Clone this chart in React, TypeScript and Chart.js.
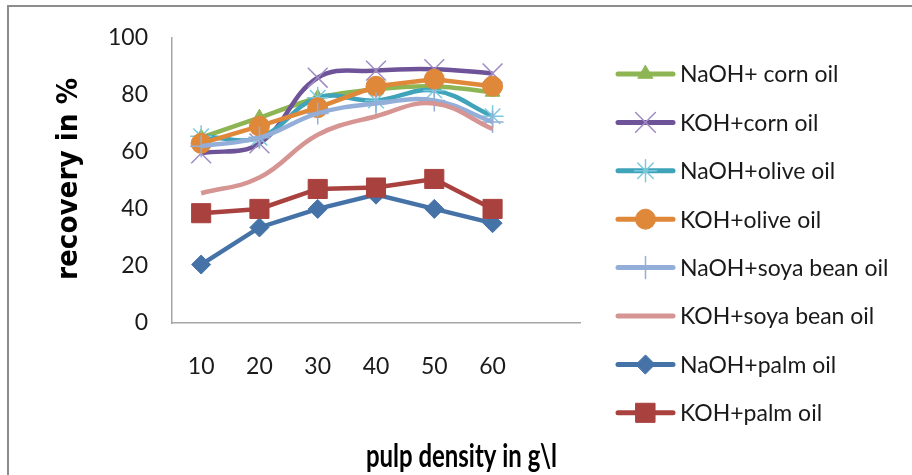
import React, { useEffect, useRef } from 'react';
import { Chart, registerables, PointElement } from 'chart.js';

Chart.register(...registerables);

const categories = ['10', '20', '30', '40', '50', '60', ''];
const seriesLabels = [
  'NaOH+ corn oil',
  'KOH+corn oil',
  'NaOH+olive oil',
  'KOH+olive oil',
  'NaOH+soya bean oil',
  'KOH+soya bean oil',
  'NaOH+palm oil',
  'KOH+palm oil',
];
const naohCorn = [65, 72, 79, 82, 83, 81];
const kohCorn = [59.5, 63, 86, 88.5, 89, 87.5];
const naohOlive = [65.5, 65, 79, 78, 81.5, 72.5];
const kohOlive = [63, 69, 75.5, 83, 85.5, 83];
const naohSoya = [62, 65, 73.5, 77, 78, 70.5];
const kohSoya = [45.5, 51, 66, 72.5, 77, 68];
const naohPalm = [20.5, 33.5, 40, 45, 40, 35];
const kohPalm = [38.5, 40, 47, 47.5, 50.5, 40];
const yMin = 0;
const yMax = 100;
const yStep = 20;
const xTitle = 'pulp density in g\\l';
const yTitle = 'recovery in %';

const seriesData = [naohCorn, kohCorn, naohOlive, kohOlive, naohSoya, kohSoya, naohPalm, kohPalm];

type Style = {
  line: string;
  pointStyle: any;
  radius: number;
  fill: string;
  stroke: string;
  pbw: number;
  tension: number;
};

const styles: Style[] = [
  { line: '#8DB553', pointStyle: 'triangle', radius: 8.5, fill: '#8DB553', stroke: '#8DB553', pbw: 1, tension: 0.25 },
  { line: '#6E5398', pointStyle: 'crossRot', radius: 14, fill: 'transparent', stroke: '#9F8CC4', pbw: 1.5, tension: 0.4 },
  { line: '#3FA3BA', pointStyle: 'star', radius: 11, fill: 'transparent', stroke: '#7CC9DD', pbw: 1.5, tension: 0.4 },
  { line: '#E0883A', pointStyle: 'circle', radius: 10, fill: '#E0883A', stroke: '#E0883A', pbw: 1, tension: 0 },
  { line: '#93AED8', pointStyle: 'cross', radius: 11, fill: 'transparent', stroke: '#93AED8', pbw: 1.5, tension: 0.4 },
  { line: '#D69592', pointStyle: 'circle', radius: 0, fill: '#D69592', stroke: '#D69592', pbw: 0, tension: 0.4 },
  { line: '#4573A8', pointStyle: 'rectRot', radius: 9.5, fill: '#4573A8', stroke: '#4573A8', pbw: 1, tension: 0 },
  { line: '#A9423F', pointStyle: 'rect', radius: 13.5, fill: '#A9423F', stroke: '#A9423F', pbw: 1, tension: 0 },
];

const framePlugin = {
  id: 'frame',
  beforeDraw(chart: any) {
    const ctx = chart.ctx;
    ctx.save();
    ctx.fillStyle = '#ffffff';
    ctx.fillRect(0, 0, chart.width, chart.height);
    ctx.strokeStyle = '#8c8c8c';
    ctx.lineWidth = 2;
    ctx.beginPath();
    ctx.moveTo(8, chart.height + 2);
    ctx.lineTo(8, 6);
    ctx.lineTo(chart.width + 2, 6);
    ctx.stroke();
    ctx.restore();
  },
};

function fittedText(ctx: any, text: string, x: number, y: number, width: number) {
  const w = ctx.measureText(text).width;
  const sx = width / w;
  ctx.save();
  ctx.translate(x, y);
  ctx.scale(sx, 1);
  ctx.fillText(text, 0, 0);
  ctx.restore();
}

const decorPlugin = {
  id: 'decor',
  afterDraw(chart: any) {
    const ctx = chart.ctx;
    ctx.save();
    // legend
    const x0 = 618;
    const x1 = 673;
    const mx = 645.5;
    chart.data.datasets.forEach((ds: any, i: number) => {
      const st = styles[i];
      const y = 74 + i * 48.4;
      ctx.strokeStyle = st.line;
      ctx.lineWidth = 5;
      ctx.lineCap = 'round';
      ctx.beginPath();
      ctx.moveTo(x0, y);
      ctx.lineTo(x1, y);
      ctx.stroke();
      if (st.radius > 0) {
        const pe: any = new (PointElement as any)({
          x: mx,
          y,
          options: {
            pointStyle: st.pointStyle,
            radius: st.radius,
            rotation: 0,
            borderWidth: st.pbw,
            borderColor: st.stroke,
            backgroundColor: st.fill,
          },
        });
        pe.draw(ctx);
      }
      ctx.fillStyle = '#1a1a1a';
      ctx.font = '23px Lato';
      ctx.textBaseline = 'middle';
      ctx.textAlign = 'left';
      ctx.fillText(ds.label, 680, y + 1);
    });
    // axis titles
    ctx.fillStyle = '#000000';
    ctx.textAlign = 'left';
    ctx.textBaseline = 'alphabetic';
    ctx.font = 'bold 33px Lato';
    fittedText(ctx, xTitle, 366, 467, 191);
    ctx.save();
    ctx.translate(77, 280);
    ctx.rotate(-Math.PI / 2);
    ctx.font = 'bold 28px "DejaVu Sans"';
    fittedText(ctx, yTitle, 0, 0, 202);
    ctx.restore();
    ctx.restore();
  },
};

export default function App() {
  const ref = useRef<HTMLCanvasElement | null>(null);
  useEffect(() => {
    if (!ref.current) return;
    const chart = new Chart(ref.current, {
      type: 'line',
      data: {
        labels: categories,
        datasets: seriesData.map((d, i) => ({
          label: seriesLabels[i],
          data: d,
          borderColor: styles[i].line,
          backgroundColor: styles[i].fill,
          borderWidth: 4.5,
          tension: styles[i].tension,
          pointStyle: styles[i].pointStyle,
          pointRadius: styles[i].radius,
          pointBackgroundColor: styles[i].fill,
          pointBorderColor: styles[i].stroke,
          pointBorderWidth: styles[i].pbw,
          fill: false,
          order: 8 - i,
          clip: false as any,
        })),
      },
      options: {
        animation: false,
        responsive: false,
        events: [],
        layout: { padding: { top: 36, right: 332, left: 0, bottom: 0 } },
        plugins: {
          legend: { display: false },
          tooltip: { enabled: false },
          title: { display: false },
        },
        scales: {
          x: {
            type: 'category',
            offset: true,
            grid: { display: false, drawTicks: false },
            border: { display: true, color: '#a6a6a6', width: 1.5 },
            ticks: {
              padding: 30,
              color: '#1a1a1a',
              font: { family: 'Lato', size: 23 },
              maxRotation: 0,
              autoSkip: false,
            },
            afterFit: (s: any) => {
              s.height = 152;
            },
          },
          y: {
            min: yMin,
            max: yMax,
            grid: { display: false, drawTicks: false },
            border: { display: true, color: '#a6a6a6', width: 1.5 },
            ticks: {
              stepSize: yStep,
              padding: 24,
              color: '#1a1a1a',
              font: { family: 'Lato', size: 23 },
            },
            afterFit: (s: any) => {
              s.width = 172;
            },
          },
        },
      },
      plugins: [framePlugin, decorPlugin],
    });
    return () => chart.destroy();
  }, []);
  return (
    <div style={{ position: 'fixed', left: 0, top: 0, width: 912, height: 475 }}>
      <canvas ref={ref} width={912} height={475} style={{ width: 912, height: 475 }} />
    </div>
  );
}
